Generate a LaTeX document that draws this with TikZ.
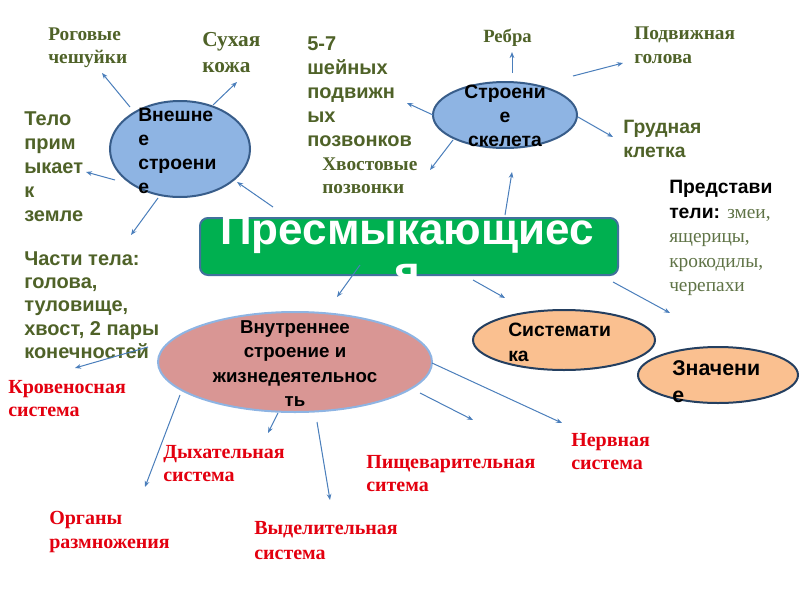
\documentclass[tikz,border=0pt]{standalone}
\usepackage{fontspec}
\setmainfont{Liberation Serif}
\setsansfont{Liberation Sans}
\usetikzlibrary{shapes.geometric,arrows.meta}
\definecolor{oliveT}{HTML}{4F6228}
\definecolor{oliveL}{HTML}{5F7346}
\definecolor{redT}{HTML}{E3000F}
\definecolor{arrowC}{HTML}{4A7EBB}
\definecolor{blueF}{HTML}{8EB4E3}
\definecolor{blueD}{HTML}{385D8A}
\definecolor{pinkF}{HTML}{D99694}
\definecolor{orangeF}{HTML}{FAC090}
\definecolor{navyD}{HTML}{243F60}
\definecolor{greenF}{HTML}{00B050}
\definecolor{greenD}{HTML}{41719C}
\begin{document}
\begin{tikzpicture}[x=0.75pt,y=-0.75pt,
  arr/.style={draw=arrowC, line width=0.75pt, -{Stealth[length=4.5pt,width=3.5pt]}},
  ell/.style={ellipse, inner sep=0pt, line width=1.5pt},
  txt/.style={inner sep=0pt, anchor=north west, align=left},
  ctxt/.style={inner sep=0pt, anchor=north, align=center},
  sansol/.style={txt, text=oliveT, font=\sffamily\bfseries\fontsize{15}{18}\selectfont},
  serifol/.style={txt, text=oliveT, font=\rmfamily\bfseries\fontsize{14}{17.5}\selectfont},
  redlbl/.style={txt, text=redT, font=\rmfamily\bfseries\fontsize{15}{17.5}\selectfont},
  elltxt/.style={text=black, font=\sffamily\bfseries\fontsize{14.5}{18}\selectfont}
]
\useasboundingbox (0,0) rectangle (800,600);

% ellipses
\node[ell, draw=blueD, fill=blueF, minimum width=105pt, minimum height=72pt] (e1) at (180,149) {};
\node[ell, draw=blueD, fill=blueF, minimum width=108pt, minimum height=49.5pt] (e2) at (505,115) {};
\node[ell, draw=blueF, fill=pinkF, minimum width=205.5pt, minimum height=75pt] (inn) at (295,362) {};
\node[ell, draw=navyD, fill=orangeF, minimum width=136.5pt, minimum height=45pt] (sys) at (564,340) {};
\node[ell, draw=navyD, fill=orangeF, minimum width=120pt, minimum height=42pt] (zn) at (718,375) {};

% main box
\node[draw=greenD, fill=greenF, line width=1.5pt, rounded corners=6pt, minimum width=313.5pt, minimum height=42.75pt, inner sep=0pt] (box) at (409,246.5) {};
\node[ctxt, text=white, font=\sffamily\bfseries\fontsize{33}{32.5}\selectfont] (title) at (407,213.5) {Пресмыкающиес\\я};

% ellipse texts
\node[txt, elltxt] (e1t) at (138,108) {Внешне\\е\\строени\\е};
\node[ctxt, elltxt] (e2t) at (505,85) {Строени\\е\\скелета};
\node[ctxt, elltxt, font=\sffamily\bfseries\fontsize{14}{18.4}\selectfont] (innt) at (295,320) {Внутреннее\\строение и\\жизнедеятельнос\\ть};
\node[txt, elltxt, font=\sffamily\bfseries\fontsize{14.5}{18.8}\selectfont] (syst) at (508,323) {Системати\\ка};
\node[txt, elltxt, font=\sffamily\bfseries\fontsize{16}{20.3}\selectfont] (znt) at (672,360) {Значени\\е};

% olive labels
\node[serifol, font=\rmfamily\bfseries\fontsize{14.5}{17.2}\selectfont] (rog) at (48,28) {Роговые\\чешуйки};
\node[serifol, font=\rmfamily\bfseries\fontsize{16}{19.5}\selectfont] (suh) at (202,32.5) {Сухая\\кожа};
\node[sansol] (telo) at (24,111) {Тело\\прим\\ыкает\\к\\земле};
\node[sansol, font=\sffamily\bfseries\fontsize{15}{17.6}\selectfont] (chast) at (24,251) {Части тела:\\голова,\\туловище,\\хвост, 2 пары\\конечностей};
\node[sansol] (sheyn) at (307,36) {5-7\\шейных\\подвижн\\ых\\позвонков};
\node[serifol, font=\rmfamily\bfseries\fontsize{14.5}{17.25}\selectfont] (hvost) at (322,158) {Хвостовые\\позвонки};
\node[serifol] (rebra) at (483,29) {Ребра};
\node[serifol, font=\rmfamily\bfseries\fontsize{14.5}{18}\selectfont] (podv) at (634,27) {Подвижная\\голова};
\node[sansol, font=\sffamily\bfseries\fontsize{14.5}{18}\selectfont] (grud) at (623,120) {Грудная\\клетка};
\node[txt, text=black, font=\sffamily\bfseries\fontsize{14.5}{18.4}\selectfont] (pred) at (669,180)
  {Представи\\тели: {\rmfamily\mdseries\color{oliveL}змеи,}\\{\rmfamily\mdseries\color{oliveL}ящерицы,}\\{\rmfamily\mdseries\color{oliveL}крокодилы,}\\{\rmfamily\mdseries\color{oliveL}черепахи}};

% red labels
\node[redlbl] (krov) at (8,380) {Кровеносная\\система};
\node[redlbl] (dyh) at (163,445) {Дыхательная\\система};
\node[redlbl, font=\rmfamily\bfseries\fontsize{15}{18}\selectfont] (org) at (49,511) {Органы\\размножения};
\node[redlbl, font=\rmfamily\bfseries\fontsize{15}{18.75}\selectfont] (vyd) at (254,521) {Выделительная\\система};
\node[redlbl] (pishch) at (366,455) {Пищеварительная\\ситема};
\node[redlbl] (nerv) at (571,433) {Нервная\\система};

% connector end points
\coordinate (a1s) at (130,107); \coordinate (a1e) at (102,73);
\coordinate (a2s) at (213,105); \coordinate (a2e) at (237,82);
\coordinate (a3s) at (115,180); \coordinate (a3e) at (86,172);
\coordinate (a4s) at (158,198); \coordinate (a4e) at (131,235);
\coordinate (a5s) at (273,207); \coordinate (a5e) at (237,182);
\coordinate (a6s) at (512,73);  \coordinate (a6e) at (512,52);
\coordinate (a7s) at (573,76);  \coordinate (a7e) at (623,63);
\coordinate (a8s) at (433,115); \coordinate (a8e) at (407,103);
\coordinate (a9s) at (578,117); \coordinate (a9e) at (613,137);
\coordinate (a10s) at (453,140); \coordinate (a10e) at (430,170);
\coordinate (a11s) at (505,215); \coordinate (a11e) at (512,172);
\coordinate (a12s) at (360,265); \coordinate (a12e) at (337,297);
\coordinate (a13s) at (473,280); \coordinate (a13e) at (505,298);
\coordinate (a14s) at (613,282); \coordinate (a14e) at (670,313);
\coordinate (a15s) at (148,347); \coordinate (a15e) at (75,368);
\coordinate (a16s) at (180,395); \coordinate (a16e) at (145,487);
\coordinate (a17s) at (278,413); \coordinate (a17e) at (268,433);
\coordinate (a18s) at (317,422); \coordinate (a18e) at (330,500);
\coordinate (a19s) at (420,393); \coordinate (a19e) at (473,420);
\coordinate (a20s) at (432,363); \coordinate (a20e) at (562,423);

\foreach \i in {1,...,20} {\draw[arr] (a\i s) -- (a\i e);}
\end{tikzpicture}
\end{document}
